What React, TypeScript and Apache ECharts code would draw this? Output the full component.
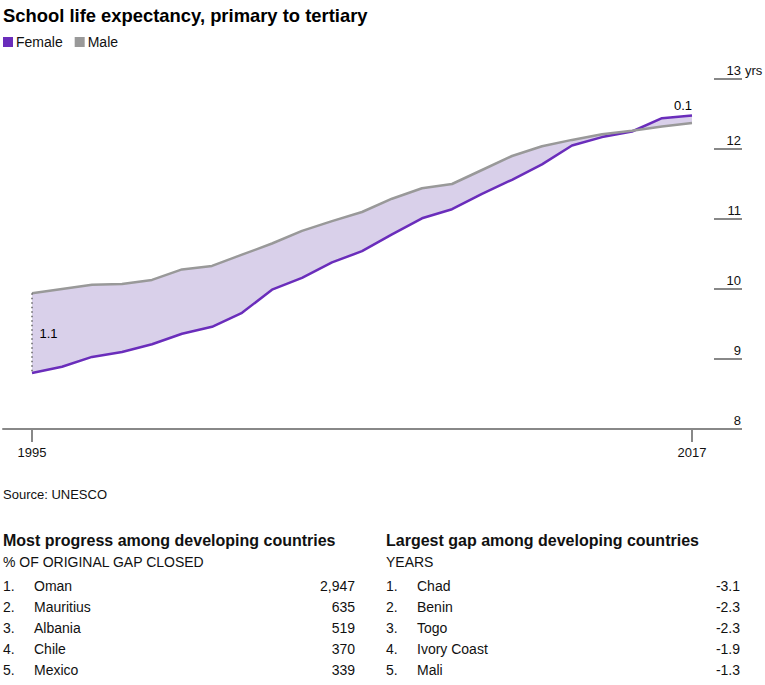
import React, { useEffect, useRef } from 'react';
import * as echarts from 'echarts';

const years = [1995, 1996, 1997, 1998, 1999, 2000, 2001, 2002, 2003, 2004, 2005, 2006, 2007, 2008, 2009, 2010, 2011, 2012, 2013, 2014, 2015, 2016, 2017];
const female = [8.80, 8.89, 9.03, 9.10, 9.21, 9.36, 9.46, 9.66, 9.99, 10.16, 10.38, 10.54, 10.78, 11.01, 11.14, 11.36, 11.56, 11.78, 12.05, 12.17, 12.25, 12.44, 12.48];
const male = [9.94, 10.00, 10.06, 10.07, 10.13, 10.28, 10.33, 10.49, 10.65, 10.83, 10.97, 11.10, 11.29, 11.44, 11.50, 11.70, 11.90, 12.04, 12.13, 12.21, 12.26, 12.32, 12.37];
const xTickYears = [1995, 2017];

const progressTitle = 'Most progress among developing countries';
const progressUnit = '% OF ORIGINAL GAP CLOSED';
const progressCountries = ['Oman', 'Mauritius', 'Albania', 'Chile', 'Mexico'];
const progressValues = [2947, 635, 519, 370, 339];

const gapTitle = 'Largest gap among developing countries';
const gapUnit = 'YEARS';
const gapCountries = ['Chad', 'Benin', 'Togo', 'Ivory Coast', 'Mali'];
const gapValues = [-3.1, -2.3, -2.3, -1.9, -1.3];

const FONT = '"Liberation Sans", Arial, Helvetica, sans-serif';
const PURPLE = '#6a2dbb';
const GRAY = '#999999';
const BAND = '#d9d0ea';
const TEXT = '#111111';

function tableGraphics(x0: number, title: string, unit: string, names: string[], values: string[], right: number) {
  const els: any[] = [];
  const txt = (x: number, y: number, text: string, opts: any = {}) => ({
    type: 'text',
    x,
    y,
    silent: true,
    style: {
      text,
      fill: TEXT,
      fontFamily: FONT,
      fontSize: opts.fontSize || 14,
      align: opts.align || 'left',
      textAlign: opts.align || 'left',
      verticalAlign: 'middle',
      textVerticalAlign: 'middle',
      fontWeight: opts.weight || 'normal',
    },
  });
  els.push(txt(x0, 540, title, { weight: 'bold', fontSize: 16 }));
  els.push(txt(x0, 562, unit));
  names.forEach((n, i) => {
    const y = 586 + i * 21;
    els.push(txt(x0, y, `${i + 1}.`));
    els.push(txt(x0 + 31, y, n));
    els.push(txt(right, y, values[i], { align: 'right' }));
  });
  return els;
}

export default function App() {
  const ref = useRef<HTMLDivElement>(null);
  useEffect(() => {
    document.body.style.margin = '0';
    const chart = echarts.init(ref.current!, null, { renderer: 'svg' });
    const n = years.length;
    const pxPerYear = 30;
    const gapLabel = {
      show: true,
      fontSize: 13,
      color: '#000',
      opacity: 1,
      fontFamily: FONT,
    };
    const option: any = {
      animation: false,
      textStyle: { fontFamily: FONT },
      title: {
        text: 'School life expectancy, primary to tertiary',
        left: 3,
        top: 6,
        padding: 0,
        textStyle: { fontSize: 18.4, fontWeight: 'bold', color: '#000', fontFamily: FONT },
      },
      legend: {
        data: ['Female', 'Male'],
        left: 3,
        top: 35,
        padding: 0,
        icon: 'rect',
        itemWidth: 10,
        itemHeight: 10,
        itemGap: 12,
        textStyle: { fontSize: 14, color: TEXT, fontFamily: FONT, padding: [0, 0, 0, -2] },
      },
      grid: { left: 3, right: 51, top: 79, bottom: 256, outerBoundsMode: 'none' },
      xAxis: {
        type: 'value',
        min: years[0] - 29 / pxPerYear,
        max: years[n - 1] + 22 / pxPerYear,
        splitLine: { show: false },
        axisLine: { show: true, lineStyle: { color: '#888', width: 2 } },
        axisTick: { show: true, customValues: xTickYears, length: 13, lineStyle: { color: '#888', width: 2 } },
        axisLabel: {
          customValues: xTickYears,
          formatter: (v: number) => String(v),
          fontSize: 13,
          color: TEXT,
          margin: 17,
          fontFamily: FONT,
        },
      },
      yAxis: {
        type: 'value',
        position: 'right',
        min: 8,
        max: 13,
        interval: 1,
        name: 'yrs',
        nameLocation: 'end',
        nameGap: 0,
        nameMoveOverlap: false,
        nameTextStyle: { fontSize: 13, color: TEXT, align: 'left', verticalAlign: 'bottom', padding: [0, 0, 2, 31], fontFamily: FONT },
        splitLine: { show: false },
        axisLine: { show: false },
        axisTick: { show: true, inside: false, length: 28, lineStyle: { color: '#888', width: 2 } },
        axisLabel: { fontSize: 13, color: TEXT, align: 'right', verticalAlign: 'bottom', margin: 27, padding: [0, 0, 2, 0], fontFamily: FONT },
      },
      series: [
        {
          type: 'custom',
          name: 'gap',
          silent: true,
          z: 1,
          data: [[years[0], female[0]]],
          renderItem: (params: any, api: any) => {
            if (params.dataIndex !== 0) return null;
            const top = years.map((y, i) => api.coord([y, female[i]]));
            const bottom = years.map((y, i) => api.coord([y, male[i]])).reverse();
            return {
              type: 'polygon',
              shape: { points: top.concat(bottom) },
              style: { fill: BAND, stroke: null },
            };
          },
        },
        {
          type: 'line',
          name: 'Female',
          z: 3,
          color: PURPLE,
          showSymbol: false,
          symbol: 'none',
          lineStyle: { color: PURPLE, width: 2.5 },
          data: years.map((y, i) => [y, female[i]]),
        },
        {
          type: 'line',
          name: 'Male',
          z: 4,
          color: GRAY,
          showSymbol: false,
          symbol: 'none',
          lineStyle: { color: GRAY, width: 2.5 },
          data: years.map((y, i) => [y, male[i]]),
          markLine: {
            silent: true,
            symbol: ['none', 'none'],
            label: { show: false },
            lineStyle: { color: '#666', type: [1.5, 3], width: 1.5 },
            data: [[{ coord: [years[0], male[0]] }, { coord: [years[0], female[0]] }]],
          },
        },
        {
          type: 'scatter',
          name: 'labels',
          symbolSize: 1,
          silent: true,
          z: 5,
          itemStyle: { opacity: 0 },
          data: [
            {
              value: [years[0], (male[0] + female[0]) / 2],
              label: {
                ...gapLabel,
                position: 'right',
                distance: 7,
                formatter: (male[0] - female[0]).toFixed(1),
              },
            },
            {
              value: [years[n - 1], female[n - 1]],
              label: {
                ...gapLabel,
                position: 'top',
                distance: 3,
                offset: [-9, 0],
                formatter: (female[n - 1] - male[n - 1]).toFixed(1),
              },
            },
          ],
        },
      ],
      graphic: [
        {
          type: 'text',
          x: 3,
          y: 494,
          silent: true,
          style: { text: 'Source: UNESCO', fill: TEXT, fontSize: 13, fontFamily: FONT, verticalAlign: 'middle', textVerticalAlign: 'middle' },
        },
        ...tableGraphics(3, progressTitle, progressUnit, progressCountries, progressValues.map((v) => v.toLocaleString('en-US')), 355),
        ...tableGraphics(386, gapTitle, gapUnit, gapCountries, gapValues.map((v) => v.toFixed(1)), 740),
      ],
    };
    chart.setOption(option);
    return () => chart.dispose();
  }, []);
  return <div ref={ref} style={{ width: 765, height: 685 }} />;
}
